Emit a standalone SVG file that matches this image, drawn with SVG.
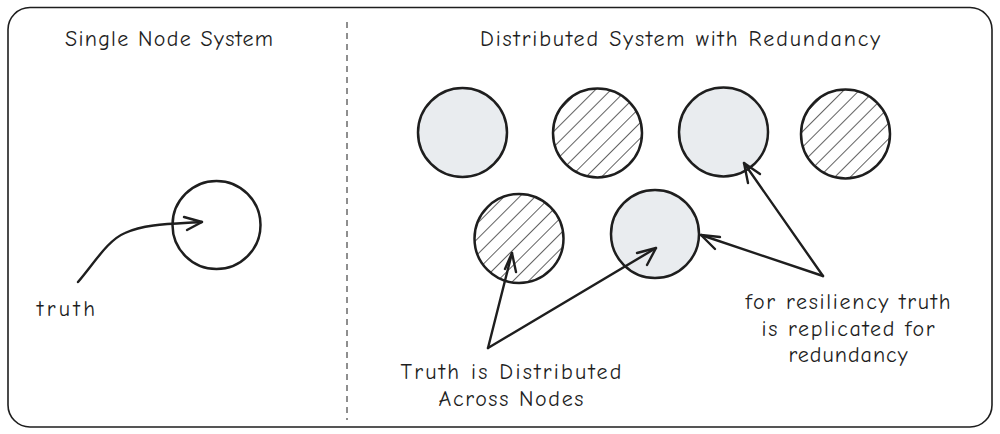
<svg xmlns="http://www.w3.org/2000/svg" width="1000" height="434" viewBox="0 0 1000 434">
  <defs>
    <pattern id="hatch" patternUnits="userSpaceOnUse" width="11" height="11" patternTransform="rotate(45)">
      <line x1="0" y1="0" x2="0" y2="11" stroke="#1e1e1e" stroke-width="1.4"/>
    </pattern>
  </defs>
  <style>
    .frame { fill: #ffffff; stroke: #1e1e1e; stroke-width: 1.6; }
    .divider { stroke: #1e1e1e; stroke-width: 1; stroke-dasharray: 6 5; fill: none; }
    .node { stroke: #1e1e1e; stroke-width: 2.5; }
    .plain { fill: #ffffff; }
    .grey { fill: #e9ecef; }
    .hatched { fill: url(#hatch); }
    .conn { fill: none; stroke: #1e1e1e; stroke-width: 2.4; stroke-linecap: round; stroke-linejoin: round; }
    text { font-family: "Comic Neue", "Noto Sans", "Liberation Sans", sans-serif; fill: #1e1e1e; font-size: 22px; }
    .mid { text-anchor: middle; }
  </style>

  <rect class="frame" x="8" y="7.5" width="984" height="419.5" rx="22" ry="22"/>
  <line class="divider" x1="347" y1="22" x2="347" y2="420"/>

  <text id="title-left" class="mid" x="169" y="46" textLength="208" lengthAdjust="spacing">Single Node System</text>
  <text id="title-right" class="mid" x="680" y="46" textLength="400" lengthAdjust="spacing">Distributed System with Redundancy</text>

  <g id="single-node"><circle class="node plain" cx="216.5" cy="225" r="44"/></g>

  <g id="node-1"><circle class="node grey" cx="462.5" cy="132.5" r="44.5"/></g>
  <g id="node-2"><circle class="node hatched" cx="597.5" cy="133" r="44.5"/></g>
  <g id="node-3"><circle class="node grey" cx="723.5" cy="132" r="44.5"/></g>
  <g id="node-4"><circle class="node hatched" cx="845.5" cy="134" r="44.5"/></g>
  <g id="node-5"><circle class="node hatched" cx="519" cy="238.5" r="44.5"/></g>
  <g id="node-6"><circle class="node grey" cx="655" cy="234" r="44"/></g>

  <g id="label-truth"><text x="37" y="316" textLength="58" lengthAdjust="spacing">truth</text></g>
  <g id="label-distributed">
    <text class="mid" x="511" y="379" textLength="221" lengthAdjust="spacing">Truth is Distributed</text>
    <text class="mid" x="511" y="406" textLength="145" lengthAdjust="spacing">Across Nodes</text>
  </g>
  <g id="label-resiliency">
    <text class="mid" x="848" y="309" textLength="205" lengthAdjust="spacing">for resiliency truth</text>
    <text class="mid" x="848" y="336" textLength="173" lengthAdjust="spacing">is replicated for</text>
    <text class="mid" x="848" y="362" textLength="119" lengthAdjust="spacing">redundancy</text>
  </g>

  <g id="connectors">
    <path class="conn" d="M78,282 C95,262 108,240 125,233 C145,224 170,224 202,222"/>
    <path class="conn" d="M184,217 L202,222 L187,230"/>

    <path class="conn" d="M488,348 L512,253"/>
    <path class="conn" d="M505,269 L512,253 L516,272"/>
    <path class="conn" d="M488,348 L656,248"/>
    <path class="conn" d="M637,253 L656,248 L647,265"/>

    <path class="conn" d="M823,276 L744,163"/>
    <path class="conn" d="M748,183 L744,163 L760,174"/>
    <path class="conn" d="M823,276 L701,235"/>
    <path class="conn" d="M720,237 L701,235 L715,249"/>
  </g>
</svg>
